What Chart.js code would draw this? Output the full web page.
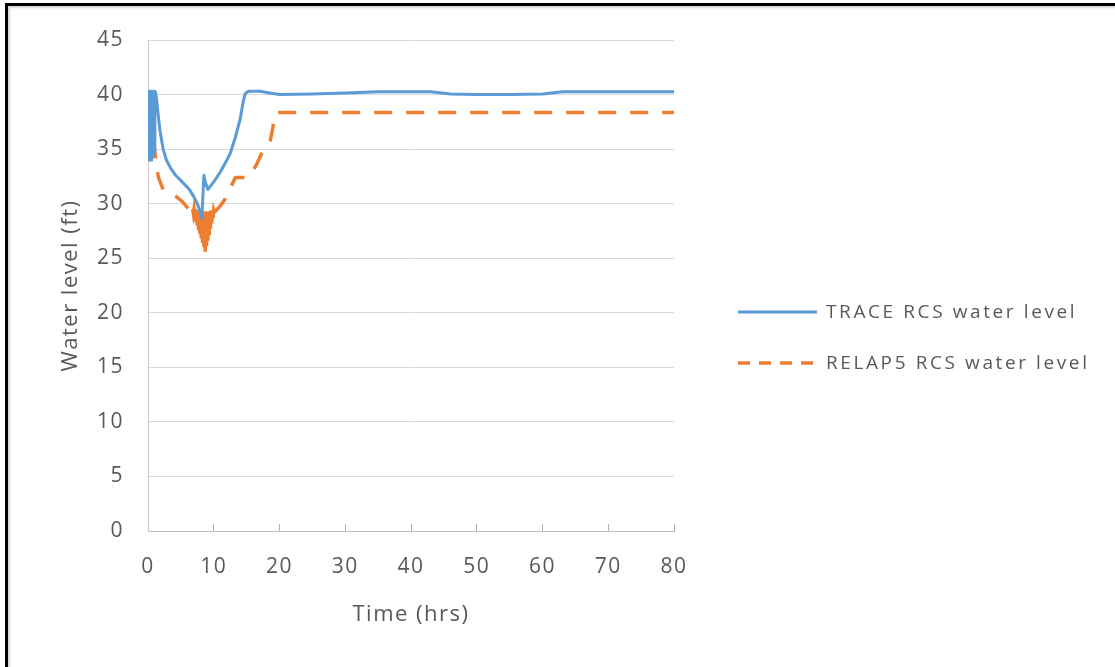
<!DOCTYPE html>
<html>
<head>
<meta charset="utf-8">
<script src="https://cdn.jsdelivr.net/npm/chart.js@4.4.1/dist/chart.umd.min.js"></script>
<style>
  html, body { margin: 0; padding: 0; background: #fff; overflow: hidden; }
  #wrap { position: relative; width: 1115px; height: 667px; }
  #frame { position: absolute; left: 5px; top: 3px; width: 1300px; height: 900px;
           border-left: 3px solid #000; border-top: 3px solid #000;
           box-shadow: inset 2px 2px 2px #d8d8d8; pointer-events: none; }
  canvas { position: absolute; left: 0; top: 0; }
</style>
</head>
<body>
<div id="wrap">
  <canvas id="c" width="1115" height="667"></canvas>
  <div id="frame"></div>
</div>
<script>
// ---- data ----
const traceLabel = 'TRACE RCS water level';
const relapLabel = 'RELAP5 RCS water level';

const traceTime = [0.0, 0.08, 0.16, 0.24, 0.32, 0.4, 0.48, 0.56, 0.64, 0.72, 0.8, 0.88, 0.96, 1.04, 1.15, 1.3, 1.5, 1.8, 2.3, 2.8, 3.4, 4.2, 5.2, 6.3, 7.0, 7.5, 7.9, 8.2, 8.5, 8.7, 9.1, 10.0, 11.0, 12.0, 12.5, 13.2, 14.0, 14.5, 14.8, 15.3, 17.0, 19.0, 20.0, 25.0, 30.0, 35.0, 40.0, 43.0, 46.0, 50.0, 55.0, 60.0, 63.0, 70.0, 75.0, 80.0];
const traceLevel = [36.0, 40.3, 34.0, 40.3, 34.2, 40.3, 34.0, 40.2, 34.3, 40.3, 34.5, 40.3, 34.8, 40.3, 40.2, 39.6, 38.4, 36.8, 35.0, 34.0, 33.3, 32.6, 32.0, 31.3, 30.6, 30.0, 29.3, 28.7, 32.6, 32.0, 31.3, 32.0, 32.9, 34.0, 34.6, 35.9, 37.7, 39.4, 40.1, 40.3, 40.3, 40.1, 40.0, 40.05, 40.15, 40.25, 40.25, 40.25, 40.05, 40.0, 40.0, 40.05, 40.25, 40.25, 40.25, 40.25];

const relapTime = [0.0, 0.5, 0.8, 1.0, 1.3, 1.6, 2.3, 3.3, 4.4, 5.2, 5.9, 6.5, 6.8, 6.9, 7.0, 7.1, 7.2, 7.3, 7.4, 7.5, 7.6, 7.7, 7.8, 7.9, 8.0, 8.1, 8.2, 8.3, 8.4, 8.5, 8.6, 8.7, 8.8, 8.9, 9.0, 9.1, 9.2, 9.3, 9.4, 9.5, 9.6, 9.7, 9.8, 9.9, 10.0, 10.1, 11.0, 11.7, 12.5, 13.3, 15.0, 15.6, 16.6, 17.5, 18.6, 19.0, 19.3, 20.0, 30.0, 40.0, 50.0, 60.0, 70.0, 80.0];
const relapLevel = [38.5, 38.4, 36.8, 35.0, 33.3, 32.4, 31.3, 31.0, 30.6, 30.2, 29.7, 29.3, 29.5, 29.1, 29.5, 28.7, 29.5, 28.3, 29.4, 28.0, 29.4, 27.6, 29.4, 27.2, 29.3, 26.8, 29.3, 26.4, 29.3, 26.0, 29.3, 25.6, 29.3, 26.1, 29.3, 26.6, 29.3, 27.1, 29.3, 27.7, 29.4, 28.2, 29.4, 28.7, 29.4, 29.2, 29.8, 30.4, 31.4, 32.4, 32.4, 32.6, 33.7, 34.9, 35.8, 37.0, 38.3, 38.35, 38.35, 38.35, 38.35, 38.35, 38.35, 38.35];

const xTicks = [0, 10, 20, 30, 40, 50, 60, 70, 80];
const yTicks = [0, 5, 10, 15, 20, 25, 30, 35, 40, 45];
const xTitle = 'Time (hrs)';
const yTitle = 'Water level (ft)';

// ---- chart ----
const textColor = '#595959';
const FONT = '"Open Sans", "Liberation Sans", sans-serif';
const zip = (xs, ys) => xs.map((x, i) => ({ x: x, y: ys[i] }));
const relapDash = [18, 14];

const spacingPlugin = {
  id: 'spacing',
  beforeUpdate(chart) { chart.ctx.letterSpacing = '1.5px'; },
  beforeDraw(chart) { chart.ctx.letterSpacing = '1.5px'; }
};

const legendPlugin = {
  id: 'customLegend',
  afterDraw(chart) {
    const ctx = chart.ctx;
    const ds = chart.data.datasets;
    const rows = [312, 363];
    ctx.save();
    ctx.letterSpacing = '2.6px';
    ds.forEach((d, i) => {
      const y = rows[i];
      ctx.beginPath();
      ctx.lineWidth = d.borderWidth;
      ctx.strokeStyle = d.borderColor;
      ctx.setLineDash(i === 1 ? [12, 9] : []);
      ctx.moveTo(738, y);
      ctx.lineTo(817, y);
      ctx.stroke();
      ctx.setLineDash([]);
      ctx.fillStyle = textColor;
      ctx.font = '19px ' + FONT;
      ctx.textBaseline = 'middle';
      ctx.textAlign = 'left';
      ctx.fillText(d.label, 826, y + 1);
    });
    ctx.restore();
  }
};

new Chart(document.getElementById('c'), {
  type: 'line',
  data: {
    datasets: [
      { label: traceLabel, data: zip(traceTime, traceLevel), borderColor: '#5B9BD5', borderWidth: 3,
        pointRadius: 0, tension: 0, fill: false, borderJoinStyle: 'round' },
      { label: relapLabel, data: zip(relapTime, relapLevel), borderColor: '#ED7D31', borderWidth: 3.5,
        borderDash: relapDash, pointRadius: 0, tension: 0, fill: false,
        segment: {
          // the dense oscillation near t = 7–10 h merges into a solid shape in the reference
          borderDash: (c) => (c.p0.parsed.x >= 6.75 && c.p1.parsed.x <= 10.15) ? [] : relapDash
        } }
    ]
  },
  options: {
    responsive: false,
    animation: false,
    devicePixelRatio: 1,
    layout: { padding: { left: 0, top: 40, right: 441, bottom: 0 } },
    plugins: { legend: { display: false }, tooltip: { enabled: false } },
    scales: {
      x: {
        type: 'linear', min: 0, max: 80,
        afterBuildTicks: (s) => { s.ticks = xTicks.map(v => ({ value: v })); },
        afterFit: (s) => { s.height = 136; },
        grid: { drawOnChartArea: false, drawTicks: true, tickLength: -7, color: '#B0B0B0' },
        border: { color: '#BFBFBF', width: 1 },
        ticks: { color: textColor, font: { family: FONT, size: 21 }, padding: 30, maxRotation: 0 },
        title: { display: true, text: xTitle, color: textColor, font: { family: FONT, size: 22 }, padding: { top: 0, bottom: 39 } }
      },
      y: {
        min: 0, max: 45,
        afterBuildTicks: (s) => { s.ticks = yTicks.map(v => ({ value: v })); },
        afterFit: (s) => { s.width = 148; },
        grid: { drawTicks: false, color: '#D9D9D9' },
        border: { color: '#C8C8C8', width: 1 },
        ticks: { color: textColor, font: { family: FONT, size: 21 }, padding: 24 },
        title: { display: true, text: yTitle, color: textColor, font: { family: FONT, size: 22 }, padding: { top: 58, bottom: 0 } }
      }
    }
  },
  plugins: [spacingPlugin, legendPlugin]
});
</script>
</body>
</html>
